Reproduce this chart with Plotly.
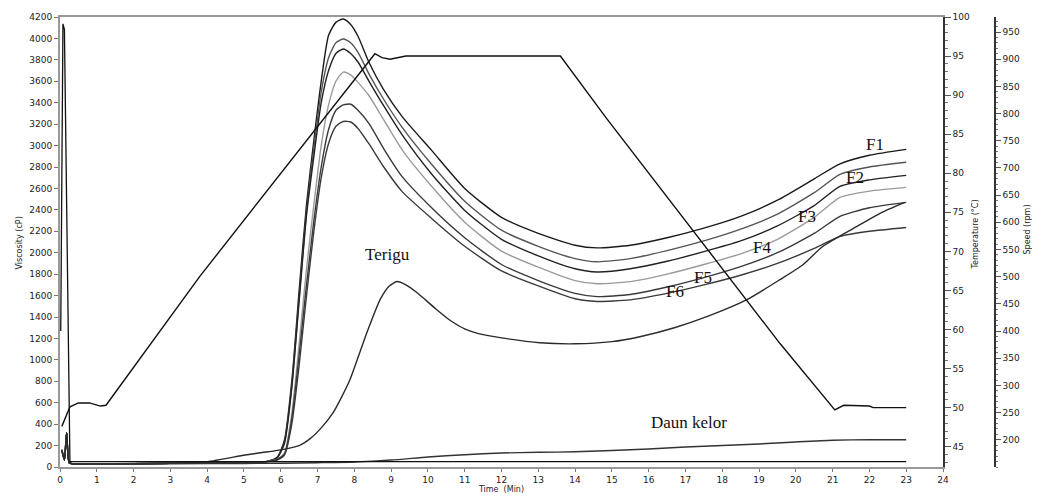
import plotly.graph_objects as go

# ---------------- data ----------------
t_f = [0.05, 0.12, 0.18, 0.25, 0.35, 1, 2, 3, 4, 5, 5.6, 5.9, 6.1, 6.3, 6.5, 6.7, 6.9,
       7.1, 7.3, 7.5, 7.7, 7.9, 8.1, 8.4, 8.8, 9.3, 10.1, 11.0, 12.0, 13.0, 14.0, 14.6,
       15.5, 16.5, 17.5, 18.5, 19.5, 20.5, 21.2, 22.0, 23.0]
f1 = [160, 65, 320, 40, 30, 30, 30, 35, 40, 45, 50, 90, 250, 800, 1650, 2450, 3050,
      3600, 4030, 4150, 4181, 4130, 4020, 3775, 3520, 3270, 2955, 2600, 2330, 2180, 2070, 2045,
      2070, 2140, 2230, 2340, 2490, 2690, 2830, 2910, 2965]
f2 = [160, 65, 320, 40, 30, 30, 30, 35, 40, 45, 50, 85, 230, 760, 1580, 2380, 2980,
      3500, 3820, 3960, 3994, 3960, 3870, 3667, 3430, 3170, 2825, 2480, 2210, 2060, 1945, 1915,
      1945, 2020, 2110, 2220, 2360, 2560, 2731, 2800, 2844]
f3 = [160, 65, 320, 40, 30, 30, 30, 35, 40, 45, 50, 85, 220, 740, 1550, 2350, 2900,
      3400, 3700, 3860, 3901, 3860, 3780, 3600, 3370, 3100, 2735, 2395, 2125, 1970, 1850, 1820,
      1850, 1920, 2010, 2110, 2250, 2440, 2619, 2680, 2722]
f4 = [160, 65, 320, 40, 30, 30, 30, 35, 40, 45, 50, 70, 130, 500, 1150, 1850, 2450,
      3000, 3380, 3600, 3686, 3660, 3590, 3465, 3240, 2960, 2620, 2285, 2015, 1865, 1740, 1710,
      1730, 1800, 1890, 1990, 2125, 2330, 2516, 2575, 2610]
f5 = [160, 65, 320, 40, 30, 30, 30, 35, 40, 45, 50, 70, 120, 450, 1050, 1700, 2300,
      2800, 3150, 3330, 3380, 3386, 3330, 3205, 2970, 2710, 2420, 2140, 1890, 1740, 1620, 1590,
      1610, 1680, 1768, 1870, 2000, 2180, 2339, 2420, 2470]
f6 = [160, 65, 320, 40, 30, 30, 30, 35, 40, 45, 50, 65, 110, 400, 950, 1600, 2200,
      2700, 3020, 3180, 3225, 3220, 3160, 3015, 2800, 2570, 2320, 2060, 1830, 1690, 1570, 1545,
      1560, 1620, 1700, 1790, 1900, 2040, 2152, 2200, 2236]

t_terigu = [0.05, 0.12, 0.18, 0.25, 0.35, 1, 2, 3, 4, 5.03, 5.5, 6.0, 6.5, 6.8, 7.1, 7.42,
            7.65, 7.88, 8.34, 8.7, 8.95, 9.16, 9.4, 9.7, 10.2, 10.6, 11.0, 11.5, 11.96, 13.04,
            14.0, 15.0, 15.76, 16.7, 17.58, 18.67, 19.57, 20.2, 20.73, 21.66, 22.3, 22.96]
terigu = [160, 65, 320, 40, 30, 30, 32, 35, 50, 112, 135, 160, 200, 265, 365, 505,
          650, 814, 1253, 1562, 1690, 1731, 1700, 1628, 1480, 1370, 1290, 1235, 1207, 1160,
          1150, 1170, 1216, 1300, 1403, 1562, 1749, 1890, 2058, 2245, 2370, 2470]

t_kelor = [0.35, 2, 4, 6, 7, 8, 9, 10, 11, 12, 13, 14, 16, 17, 19, 20, 21, 22, 23]
kelor = [30, 30, 32, 35, 40, 47, 65, 94, 115, 131, 137, 142, 168, 187, 215, 234, 250, 255, 255]

t_temp = [0.05, 0.27, 0.5, 0.8, 1.1, 1.25, 3.8, 6.52, 8.56, 8.75, 8.97, 9.4, 13.6,
          14.86, 19.57, 21.06, 21.3, 22.0, 22.1, 23.0]
temp = [47.6, 50.1, 50.6, 50.6, 50.2, 50.3, 66.8, 83.0, 95.3, 94.8, 94.6, 95.0, 95.0,
        87.0, 58.2, 49.7, 50.3, 50.2, 50.0, 50.0]

t_speed = [0.02, 0.08, 0.12, 0.27, 23.0]
speed = [400, 965, 955, 160, 160]

labels = ["F1", "F2", "F3", "F4", "F5", "F6", "Terigu", "Daun kelor"]
label_t = [22.15, 21.6, 20.3, 19.08, 17.47, 16.71, 8.89, 17.09]
label_v = [3012, 2703, 2339, 2049, 1768, 1637, 1983, 412]

x_ticks = list(range(0, 25))
visc_ticks = list(range(0, 4201, 200))
temp_ticks = list(range(45, 101, 5))
speed_ticks = list(range(200, 951, 50))

# ---------------- figure ----------------
# the page puts the figure 8 px from the top-left corner of the window,
# so the figure is made 8 px smaller and its margins are reduced by 8 px.
OFF = 8
W, H = 1040 - OFF, 498 - OFF
L, R, T = 60 - OFF, 5, 17 - OFF
B = H - (467 - OFF)
PW = W - L - R
PH = H - T - B
x_end = (943 - OFF - L) / PW
spd_pos = (995 - OFF - L) / PW

tickfont = dict(family="DejaVu Sans", size=9, color="#222")
fig = go.Figure()

f_colors = ["#1a1a1a", "#555555", "#222222", "#9a9a9a", "#3a3a3a", "#3a3a3a"]
for name, vals, col in zip(labels[:6], [f1, f2, f3, f4, f5, f6], f_colors):
    fig.add_trace(go.Scatter(x=t_f, y=vals, mode="lines", name=name,
                             line=dict(color=col, width=1.4, shape="spline", smoothing=0.6)))
fig.add_trace(go.Scatter(x=t_terigu, y=terigu, mode="lines", name="Terigu",
                         line=dict(color="#2a2a2a", width=1.4, shape="spline", smoothing=0.6)))
fig.add_trace(go.Scatter(x=t_kelor, y=kelor, mode="lines", name="Daun kelor",
                         line=dict(color="#333", width=1.4, shape="spline", smoothing=0.6)))
fig.add_trace(go.Scatter(x=t_temp, y=temp, mode="lines", name="Temperature", yaxis="y2",
                         line=dict(color="#111", width=1.4)))
fig.add_trace(go.Scatter(x=t_speed, y=speed, mode="lines", name="Speed", yaxis="y3",
                         line=dict(color="#111", width=1.3)))

for txt, tx, vy in zip(labels, label_t, label_v):
    fig.add_annotation(x=tx, y=vy, text=txt, showarrow=False,
                       font=dict(family="Liberation Serif", size=17, color="#111"))

fig.update_layout(
    width=W, height=H, margin=dict(l=L, r=R, t=T, b=B, autoexpand=False),
    paper_bgcolor="white", plot_bgcolor="white", showlegend=False,
    xaxis=dict(domain=[0, x_end], range=[0, 24], tickvals=x_ticks, ticks="outside",
               ticklen=3, tickcolor="#777", showgrid=False, zeroline=False,
               showline=True, linecolor="#999", linewidth=2, mirror=True,
               tickfont=tickfont, automargin=False,
               title=dict(text="Time  (Min)", standoff=1,
                          font=dict(family="DejaVu Sans", size=8, color="#222"))),
    yaxis=dict(range=[0, 4200], tickvals=visc_ticks, ticks="outside", ticklen=4,
               tickcolor="#777", showgrid=False, zeroline=False, showline=True,
               linecolor="#999", linewidth=2, tickfont=tickfont, automargin=False),
    yaxis2=dict(range=[42.4, 100], tickvals=temp_ticks, overlaying="y", side="right",
                anchor="x", ticks="outside", ticklen=6, tickcolor="#555",
                showgrid=False, zeroline=False, showline=True, linecolor="#333",
                linewidth=1.5, tickfont=tickfont, automargin=False,
                minor=dict(dtick=1, ticklen=3, ticks="outside", tickcolor="#777")),
    yaxis3=dict(range=[150, 977.6], tickvals=speed_ticks, overlaying="y", side="right",
                anchor="free", position=spd_pos, ticks="outside", ticklen=5,
                tickcolor="#555", showgrid=False, zeroline=False, showline=True,
                linecolor="#333", linewidth=1.5, tickfont=tickfont, automargin=False,
                minor=dict(dtick=10, ticklen=2, ticks="outside", tickcolor="#777")),
)

def px_x(p):
    return (p - OFF - L) / PW

def px_y(p):
    return 1 - (p - OFF - T) / PH

axis_titles = [("Viscosity (cP)", 12, 243), ("Temperature (°C)", 981, 235), ("Speed (rpm)", 1033, 230)]
for txt, xp, yp in axis_titles:
    fig.add_annotation(x=px_x(xp), y=px_y(yp), xref="paper", yref="paper", text=txt,
                       textangle=-90, showarrow=False,
                       font=dict(family="DejaVu Sans", size=8, color="#222"))

fig.write_html("out.html")
